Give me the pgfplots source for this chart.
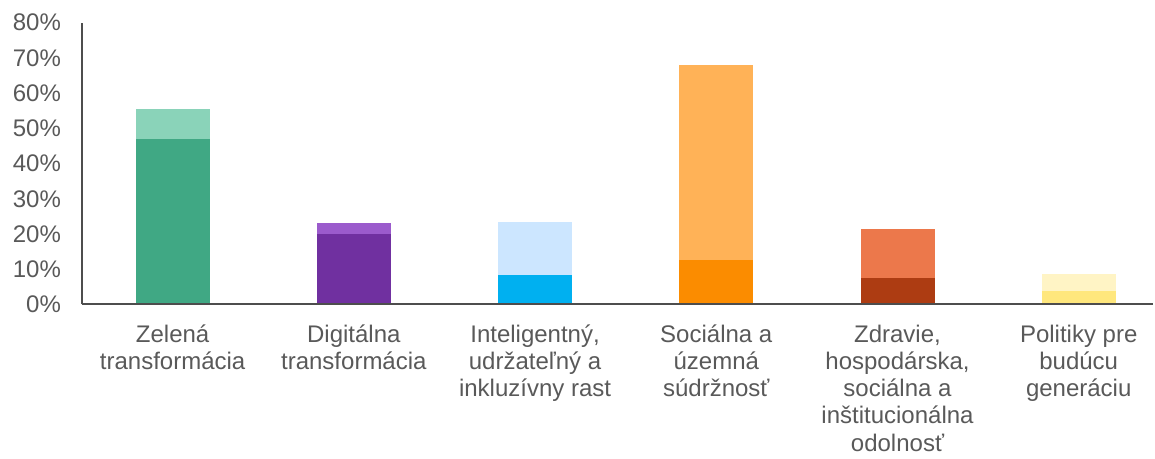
\documentclass[border=0pt]{standalone}
\usepackage{pgfplots}
\pgfplotsset{compat=1.18}
\usepackage{fontspec}
\setmainfont{Liberation Sans}
\definecolor{txt}{HTML}{595959}
\definecolor{axc}{HTML}{4D4D4D}
\definecolor{gD}{HTML}{40A884}
\definecolor{gL}{HTML}{8AD3B9}
\definecolor{pD}{HTML}{7030A0}
\definecolor{pL}{HTML}{9B5BCC}
\definecolor{bD}{HTML}{00B0F0}
\definecolor{bL}{HTML}{CCE6FF}
\definecolor{oD}{HTML}{FB8C00}
\definecolor{oL}{HTML}{FFB257}
\definecolor{rD}{HTML}{AD3C12}
\definecolor{rL}{HTML}{EC784B}
\definecolor{yD}{HTML}{FFE77D}
\definecolor{yL}{HTML}{FFF4C5}
\newcommand{\fs}{\rule{0pt}{11.5pt}}
\begin{document}
\begin{tikzpicture}
\begin{axis}[
  width=535.5pt, height=140.9pt, scale only axis,
  xmin=-0.5, xmax=5.41, ymin=0, ymax=80,
  axis x line=bottom, axis y line=left,
  axis line style={-, draw=axc, line width=1pt},
  ytick={0,10,...,80},
  yticklabels={0\%,10\%,20\%,30\%,40\%,50\%,60\%,70\%,80\%},
  xtick={0,1,2,3,4,5},
  xticklabels={
    {\fs Zelená\\transformácia},
    {\fs Digitálna\\transformácia},
    {\fs Inteligentný,\\udržateľný a\\inkluzívny rast},
    {\fs Sociálna a\\územná\\súdržnosť},
    {\fs Zdravie,\\hospodárska,\\sociálna a\\inštitucionálna\\odolnosť},
    {\fs Politiky pre\\budúcu\\generáciu}},
  major tick length=0pt,
  tick style={draw=none},
  ticklabel style={font=\fontsize{12}{13.65}\selectfont, text=txt},
  xticklabel style={align=center, anchor=north, yshift=-3.75pt},
  yticklabel style={anchor=east, xshift=-7pt},
  ybar, bar width=37pt, bar shift=0pt,
  clip=false, axis on top,
]
\addplot[fill=gL, draw=none] coordinates {(0,55.5)};
\addplot[fill=gD, draw=none] coordinates {(0,47.0)};
\addplot[fill=pL, draw=none] coordinates {(1,23.15)};
\addplot[fill=pD, draw=none] coordinates {(1,20.1)};
\addplot[fill=bL, draw=none] coordinates {(2,23.4)};
\addplot[fill=bD, draw=none] coordinates {(2,8.4)};
\addplot[fill=oL, draw=none] coordinates {(3,68.0)};
\addplot[fill=oD, draw=none] coordinates {(3,12.6)};
\addplot[fill=rL, draw=none] coordinates {(4,21.4)};
\addplot[fill=rD, draw=none] coordinates {(4,7.5)};
\addplot[fill=yL, draw=none] coordinates {(5,8.7)};
\addplot[fill=yD, draw=none] coordinates {(5,3.8)};
\end{axis}
\pgfresetboundingbox
\path (current axis.south west) ++(-41pt,-77.25pt) rectangle ++(577.5pt,229.5pt);
\end{tikzpicture}
\end{document}
